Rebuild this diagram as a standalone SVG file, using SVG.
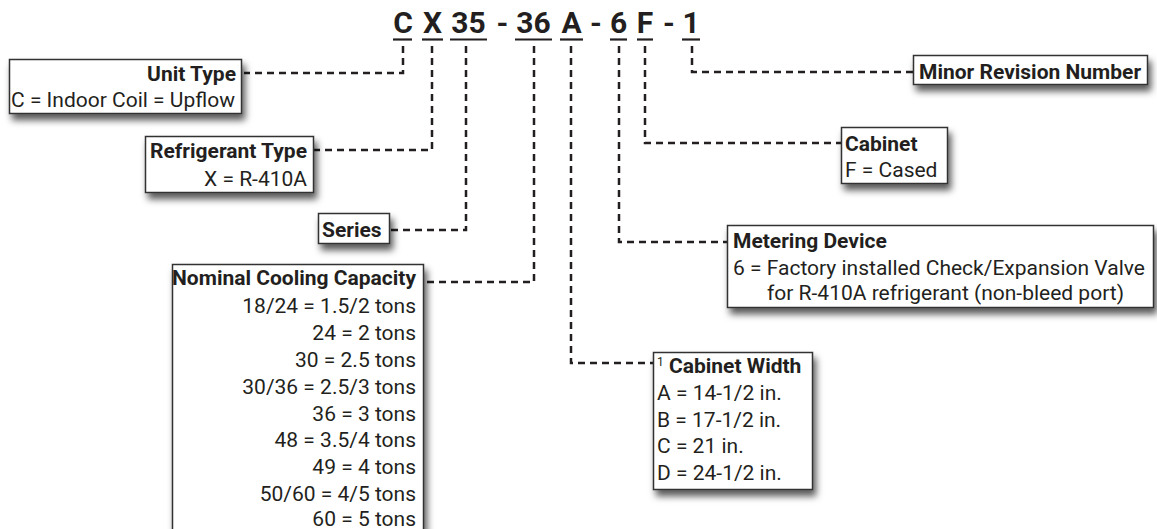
<svg xmlns="http://www.w3.org/2000/svg" width="1157" height="529" viewBox="0 0 1157 529">
<style>
  text { font-family: Roboto, "Liberation Sans", sans-serif; fill: #231f20; }
  .code { font-size: 30px; font-weight: 700; text-anchor: middle; }
  .h { font-size: 21px; font-weight: 700; }
  .t { font-size: 21px; font-weight: 400; }
  .r { text-anchor: end; }
  .box { fill: #fff; stroke: #333; stroke-width: 1.5; filter: url(#sh); }
  .ul { stroke: #231f20; stroke-width: 2.2; }
  .conn { fill: none; stroke: #231f20; stroke-width: 2.5; stroke-dasharray: 7 5; }
</style>
<defs>
  <filter id="sh" x="-20%" y="-30%" width="150%" height="180%">
    <feDropShadow dx="3" dy="6" stdDeviation="3.5" flood-color="#000" flood-opacity="0.65"/>
  </filter>
</defs>
<rect width="1157" height="529" fill="#fff"/>

<g id="code">
  <text class="code" x="403" y="33">C</text>
  <text class="code" x="432.5" y="33">X</text>
  <text class="code" x="468.5" y="33">35</text>
  <text class="code" x="502.5" y="33">-</text>
  <text class="code" x="533.5" y="33">36</text>
  <text class="code" x="571.5" y="33">A</text>
  <text class="code" x="596" y="33">-</text>
  <text class="code" x="618.5" y="33">6</text>
  <text class="code" x="645" y="33">F</text>
  <text class="code" x="669" y="33">-</text>
  <text class="code" x="691" y="33">1</text>
  <line class="ul" x1="393" y1="39.5" x2="412" y2="39.5"/>
  <line class="ul" x1="422" y1="39.5" x2="443" y2="39.5"/>
  <line class="ul" x1="450" y1="39.5" x2="487" y2="39.5"/>
  <line class="ul" x1="515" y1="39.5" x2="552" y2="39.5"/>
  <line class="ul" x1="560" y1="39.5" x2="583" y2="39.5"/>
  <line class="ul" x1="610" y1="39.5" x2="627" y2="39.5"/>
  <line class="ul" x1="637" y1="39.5" x2="653" y2="39.5"/>
  <line class="ul" x1="682" y1="39.5" x2="700" y2="39.5"/>
</g>

<g id="connectors">
  <path class="conn" d="M403,46 V73 H244"/>
  <path class="conn" d="M432,46 V150 H314"/>
  <path class="conn" d="M466,46 V230 H390"/>
  <path class="conn" d="M534,46 V282 H424"/>
  <path class="conn" d="M571,46 V363 H653"/>
  <path class="conn" d="M619,46 V242 H727"/>
  <path class="conn" d="M645,46 V143 H841"/>
  <path class="conn" d="M692,46 V72 H913"/>
</g>

<g id="unit-type">
  <rect class="box" x="9.5" y="59.5" width="232" height="54"/>
  <text class="h r" x="236" y="80.5">Unit Type</text>
  <text class="t" x="11" y="106.5">C = Indoor Coil = Upflow</text>
</g>

<g id="refrigerant-type">
  <rect class="box" x="145.5" y="136.5" width="168" height="56"/>
  <text class="h r" x="307" y="158">Refrigerant Type</text>
  <text class="t r" x="307" y="186">X = R-410A</text>
</g>

<g id="series">
  <rect class="box" x="318.5" y="213.5" width="71" height="30"/>
  <text class="h" x="322" y="237">Series</text>
</g>

<g id="nominal-cooling-capacity">
  <rect class="box" x="172.5" y="264.5" width="251" height="290"/>
  <text class="h r" x="416" y="285">Nominal Cooling Capacity</text>
  <text class="t r" x="416" y="313">18/24 = 1.5/2 tons</text>
  <text class="t r" x="416" y="340">24 = 2 tons</text>
  <text class="t r" x="416" y="367">30 = 2.5 tons</text>
  <text class="t r" x="416" y="394">30/36 = 2.5/3 tons</text>
  <text class="t r" x="416" y="420.5">36 = 3 tons</text>
  <text class="t r" x="416" y="447">48 = 3.5/4 tons</text>
  <text class="t r" x="416" y="474">49 = 4 tons</text>
  <text class="t r" x="416" y="500.5">50/60 = 4/5 tons</text>
  <text class="t r" x="416" y="526">60 = 5 tons</text>
</g>

<g id="cabinet-width">
  <rect class="box" x="653.5" y="352.5" width="159" height="137"/>
  <text class="h" x="657" y="373"><tspan font-size="12" font-weight="400" dy="-7">1</tspan><tspan dy="7"> Cabinet Width</tspan></text>
  <text class="t" x="657" y="400">A = 14-1/2 in.</text>
  <text class="t" x="657" y="427">B = 17-1/2 in.</text>
  <text class="t" x="657" y="453">C = 21 in.</text>
  <text class="t" x="657" y="480">D = 24-1/2 in.</text>
</g>

<g id="metering-device">
  <rect class="box" x="727.5" y="225.5" width="426" height="82"/>
  <text class="h" x="733" y="248">Metering Device</text>
  <text class="t" x="733" y="274.5">6 = Factory installed Check/Expansion Valve</text>
  <text class="t" x="767" y="300">for R-410A refrigerant (non-bleed port)</text>
</g>

<g id="cabinet">
  <rect class="box" x="841.5" y="127.5" width="106" height="56"/>
  <text class="h" x="845" y="151">Cabinet</text>
  <text class="t" x="845" y="177">F = Cased</text>
</g>

<g id="minor-revision">
  <rect class="box" x="913.5" y="55.5" width="234" height="29"/>
  <text class="h" x="919" y="79">Minor Revision Number</text>
</g>
</svg>
